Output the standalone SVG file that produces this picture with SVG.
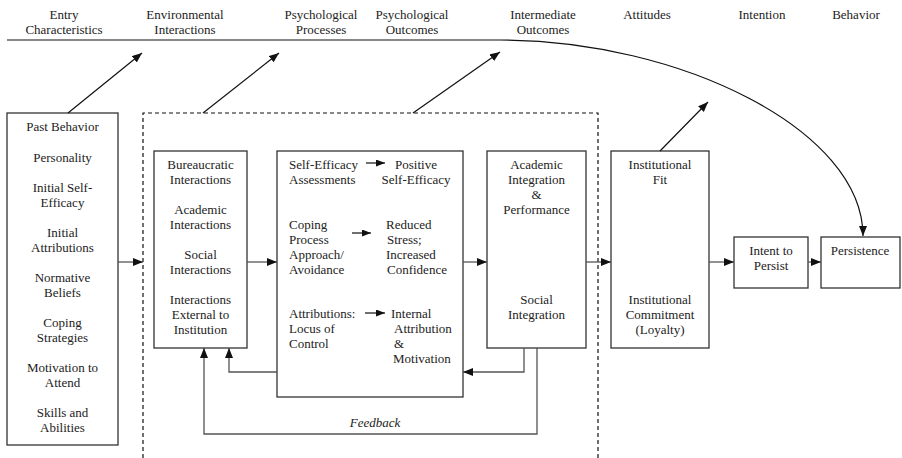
<svg xmlns="http://www.w3.org/2000/svg" width="902" height="458" viewBox="0 0 902 458" font-family="'Liberation Serif', 'DejaVu Serif', serif">
<style>
text{font-family:'Liberation Serif','DejaVu Serif',serif;font-size:13px;fill:#222}
.c{text-anchor:middle}
.box{fill:#fff;stroke:#333;stroke-width:1.3}
.ln{fill:none;stroke:#555;stroke-width:1.3}
.dk{fill:none;stroke:#111;stroke-width:1.2}
.dash{fill:none;stroke:#111;stroke-width:1.2;stroke-dasharray:4 3}
</style>
<defs>
<marker id="ah" markerUnits="userSpaceOnUse" markerWidth="11" markerHeight="9" refX="10" refY="4" orient="auto">
<path d="M0,0 L10,4 L0,8 z" fill="#111"/>
</marker>
<marker id="ahs" markerUnits="userSpaceOnUse" markerWidth="10" markerHeight="8" refX="9" refY="3.5" orient="auto">
<path d="M0,0 L9,3.5 L0,7 z" fill="#111"/>
</marker>
</defs>

<g id="headers">
<text class="c" x="64" y="19">Entry</text>
<text class="c" x="64" y="34">Characteristics</text>
<text class="c" x="185" y="19">Environmental</text>
<text class="c" x="185" y="34">Interactions</text>
<text class="c" x="321" y="19">Psychological</text>
<text class="c" x="321" y="34">Processes</text>
<text class="c" x="412" y="19">Psychological</text>
<text class="c" x="412" y="34">Outcomes</text>
<text class="c" x="543" y="19">Intermediate</text>
<text class="c" x="543" y="34">Outcomes</text>
<text class="c" x="647" y="19">Attitudes</text>
<text class="c" x="762" y="19">Intention</text>
<text class="c" x="856" y="19">Behavior</text>
</g>

<g id="entry">
<rect class="box" x="7" y="113" width="111" height="332"/>
<text class="c" x="62.5" y="131">Past Behavior</text>
<text class="c" x="62.5" y="162">Personality</text>
<text class="c" x="62.5" y="192">Initial Self-</text>
<text class="c" x="62.5" y="207">Efficacy</text>
<text class="c" x="62.5" y="237">Initial</text>
<text class="c" x="62.5" y="252">Attributions</text>
<text class="c" x="62.5" y="282">Normative</text>
<text class="c" x="62.5" y="297">Beliefs</text>
<text class="c" x="62.5" y="327">Coping</text>
<text class="c" x="62.5" y="342">Strategies</text>
<text class="c" x="62.5" y="372">Motivation to</text>
<text class="c" x="62.5" y="387">Attend</text>
<text class="c" x="62.5" y="417">Skills and</text>
<text class="c" x="62.5" y="432">Abilities</text>
</g>

<g id="environmental">
<rect class="box" x="154" y="151" width="93" height="197"/>
<text class="c" x="200.5" y="169">Bureaucratic</text>
<text class="c" x="200.5" y="184">Interactions</text>
<text class="c" x="200.5" y="214">Academic</text>
<text class="c" x="200.5" y="229">Interactions</text>
<text class="c" x="200.5" y="259">Social</text>
<text class="c" x="200.5" y="274">Interactions</text>
<text class="c" x="200.5" y="304">Interactions</text>
<text class="c" x="200.5" y="319">External to</text>
<text class="c" x="200.5" y="334">Institution</text>
</g>

<g id="psychological">
<rect class="box" x="277" y="151" width="186" height="246"/>
<text x="289" y="169">Self-Efficacy</text>
<text x="289" y="184">Assessments</text>
<text class="c" x="416" y="169">Positive</text>
<text class="c" x="416" y="184">Self-Efficacy</text>
<text x="289" y="229">Coping</text>
<text x="289" y="244">Process</text>
<text x="289" y="259">Approach/</text>
<text x="289" y="274">Avoidance</text>
<text x="386" y="229">Reduced</text>
<text x="387" y="244">Stress;</text>
<text x="386" y="259">Increased</text>
<text x="387" y="274">Confidence</text>
<text x="289" y="318">Attributions:</text>
<text x="289" y="333">Locus of</text>
<text x="289" y="348">Control</text>
<text x="391" y="318">Internal</text>
<text x="394" y="333">Attribution</text>
<text x="394" y="348">&amp;</text>
<text x="393" y="363">Motivation</text>
</g>

<g id="intermediate">
<rect class="box" x="487" y="151" width="99" height="197"/>
<text class="c" x="536.5" y="169">Academic</text>
<text class="c" x="536.5" y="184">Integration</text>
<text class="c" x="536.5" y="199">&amp;</text>
<text class="c" x="536.5" y="214">Performance</text>
<text class="c" x="536.5" y="304">Social</text>
<text class="c" x="536.5" y="319">Integration</text>
</g>

<g id="attitudes">
<rect class="box" x="611" y="151" width="98" height="197"/>
<text class="c" x="660" y="169">Institutional</text>
<text class="c" x="660" y="184">Fit</text>
<text class="c" x="660" y="304">Institutional</text>
<text class="c" x="660" y="319">Commitment</text>
<text class="c" x="660" y="334">(Loyalty)</text>
</g>

<g id="intent">
<rect class="box" x="734" y="237" width="74" height="51"/>
<text class="c" x="771" y="255">Intent to</text>
<text class="c" x="771" y="270">Persist</text>
</g>

<g id="persistence">
<rect class="box" x="821" y="237" width="79" height="51"/>
<text class="c" x="860" y="255">Persistence</text>
</g>

<g id="connectors">
<path class="dash" d="M143,458 V113 H598 V458"/>
<path class="dk" d="M7,40 H500 C680,40 863,130 863,236" marker-end="url(#ah)"/>
<line class="dk" x1="68" y1="113" x2="142" y2="53" marker-end="url(#ah)"/>
<line class="dk" x1="203" y1="113" x2="279" y2="53" marker-end="url(#ah)"/>
<line class="dk" x1="413" y1="113" x2="500" y2="52" marker-end="url(#ah)"/>
<line class="dk" x1="660" y1="151" x2="708" y2="102" marker-end="url(#ah)"/>
<line class="ln" x1="118" y1="262" x2="143" y2="262" marker-end="url(#ah)"/>
<line class="ln" x1="247" y1="262" x2="277" y2="262" marker-end="url(#ah)"/>
<line class="ln" x1="463" y1="262" x2="487" y2="262" marker-end="url(#ah)"/>
<line class="ln" x1="586" y1="262" x2="611" y2="262" marker-end="url(#ah)"/>
<line class="ln" x1="709" y1="262" x2="734" y2="262" marker-end="url(#ah)"/>
<line class="ln" x1="808" y1="262" x2="821" y2="262" marker-end="url(#ah)"/>
<path class="ln" d="M277,372 H229 V348" marker-end="url(#ah)"/>
<path class="ln" d="M524,348 V372 H463" marker-end="url(#ah)"/>
<path class="ln" d="M537,348 V434 H204 V348" marker-end="url(#ah)"/>
<line class="dk" x1="366" y1="163" x2="385" y2="163" marker-end="url(#ahs)"/>
<line class="dk" x1="352" y1="233" x2="371" y2="233" marker-end="url(#ahs)"/>
<line class="dk" x1="365" y1="313" x2="385" y2="313" marker-end="url(#ahs)"/>
<text x="375" y="427" class="c" font-style="italic">Feedback</text>
</g>
</svg>
